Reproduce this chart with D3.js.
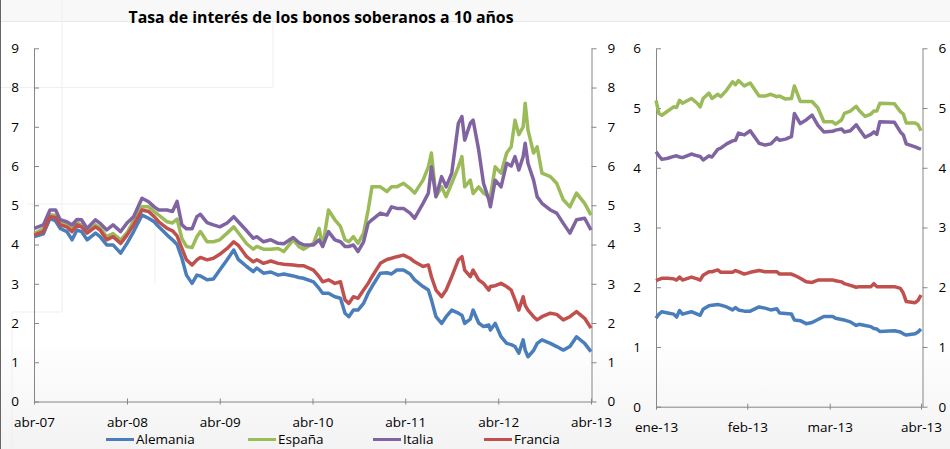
<!DOCTYPE html>
<html>
<head>
<meta charset="utf-8">
<script src="https://cdn.jsdelivr.net/npm/d3@7"></script>
<style>
  body { margin: 0; background: #fff; }
  svg { display: block; }
  text { font-family: "Open Sans", sans-serif; fill: #000; }
</style>
</head>
<body>
<div id="chart"></div>
<script>
// ---- data ----
var series = ["Alemania", "España", "Italia", "Francia"];
var colors = ["#4a7ebb", "#9bbb59", "#8064a2", "#c0504d"];
var meses = ["ene","feb","mar","abr","may","jun","jul","ago","sep","oct","nov","dic"];

// long panel, abr-07 .. abr-13
var fechas = ["2007-04-02","2007-05-08","2007-06-03","2007-06-25","2007-07-13","2007-08-08","2007-08-29",
  "2007-09-17","2007-10-05","2007-10-27","2007-11-29","2007-12-17","2008-01-12","2008-02-06","2008-03-07",
  "2008-04-01","2008-04-27","2008-05-30","2008-06-25","2008-07-17","2008-08-04","2008-09-06","2008-09-27",
  "2008-10-15","2008-11-03","2008-11-21","2008-12-13","2009-01-01","2009-01-15","2009-02-10","2009-03-07",
  "2009-04-01","2009-04-30","2009-05-26","2009-06-13","2009-07-16","2009-08-11","2009-08-25","2009-09-20",
  "2009-10-19","2009-11-17","2009-12-09","2010-01-15","2010-02-06","2010-02-24","2010-04-05","2010-04-27",
  "2010-05-11","2010-06-03","2010-06-28","2010-07-20","2010-08-07","2010-08-22","2010-09-09","2010-09-27",
  "2010-10-19","2010-11-06","2010-11-21","2010-12-24","2011-01-19","2011-02-06","2011-02-27","2011-03-25",
  "2011-04-20","2011-05-08","2011-06-10","2011-07-01","2011-07-13","2011-07-31","2011-08-22","2011-09-09",
  "2011-10-01","2011-10-27","2011-11-10","2011-11-21","2011-12-13","2011-12-24","2012-01-15","2012-02-03",
  "2012-02-24","2012-03-01","2012-03-20","2012-04-12","2012-05-04","2012-05-22","2012-06-06","2012-06-21",
  "2012-07-08","2012-07-16","2012-07-27","2012-08-18","2012-09-01","2012-09-20","2012-10-23","2012-11-17",
  "2012-12-13","2013-01-08","2013-02-03","2013-03-07","2013-04-01"];

var alemania = [4.20,4.27,4.67,4.60,4.41,4.33,4.12,4.37,4.33,4.12,4.29,4.20,3.99,3.99,3.78,
  4.03,4.33,4.75,4.67,4.58,4.45,4.24,4.12,4.00,3.65,3.22,3.01,3.22,3.20,3.10,3.12,
  3.35,3.61,3.86,3.62,3.44,3.31,3.40,3.27,3.30,3.22,3.25,3.20,3.16,3.14,3.05,2.88,
  2.76,2.76,2.67,2.63,2.25,2.16,2.33,2.33,2.50,2.76,2.93,3.27,3.28,3.25,3.35,3.35,
  3.25,3.10,2.93,2.84,2.59,2.16,1.99,2.16,2.33,2.25,2.20,1.99,2.10,2.33,2.00,1.91,
  1.95,1.82,1.99,1.65,1.48,1.45,1.40,1.23,1.57,1.31,1.14,1.30,1.48,1.57,1.48,1.40,
  1.31,1.40,1.65,1.48,1.27];
var espana = [4.28,4.40,4.76,4.74,4.55,4.50,4.40,4.55,4.50,4.33,4.50,4.42,4.20,4.28,4.12,
  4.30,4.60,4.96,4.96,4.84,4.75,4.58,4.55,4.65,4.15,3.95,3.92,4.20,4.33,4.07,4.07,
  4.12,4.29,4.45,4.30,4.02,3.88,3.95,3.88,3.88,3.90,3.82,4.12,3.95,3.88,4.03,4.41,
  3.95,4.88,4.63,4.46,4.12,4.07,4.20,4.03,4.29,4.88,5.47,5.47,5.35,5.47,5.47,5.56,
  5.43,5.31,5.64,5.98,6.33,5.22,5.47,5.22,5.56,5.98,6.24,5.47,5.64,5.30,5.47,5.31,
  5.22,5.22,5.98,5.82,6.33,6.49,7.17,6.80,7.00,7.60,6.92,6.33,6.49,5.82,5.73,5.56,
  5.14,4.96,5.31,5.05,4.75];
var italia = [4.41,4.50,4.88,4.88,4.63,4.58,4.50,4.64,4.63,4.41,4.63,4.54,4.37,4.50,4.33,
  4.55,4.71,5.18,5.09,4.96,4.88,4.88,4.84,5.10,4.50,4.40,4.40,4.71,4.77,4.56,4.50,
  4.45,4.55,4.71,4.58,4.35,4.16,4.20,4.07,4.12,4.03,4.02,4.18,4.05,3.99,3.99,4.12,
  3.95,4.33,4.12,4.07,3.95,3.95,3.99,3.82,4.07,4.54,4.63,4.80,4.75,4.96,4.92,4.92,
  4.80,4.67,5.05,5.31,5.98,5.22,5.73,5.47,5.82,7.09,7.26,6.66,7.09,7.17,6.41,5.56,
  5.14,4.96,5.64,5.47,6.07,6.00,6.24,5.90,6.24,6.58,6.07,5.64,5.22,5.05,4.88,4.80,
  4.54,4.29,4.63,4.67,4.37];
var francia = [4.24,4.33,4.71,4.69,4.50,4.45,4.33,4.50,4.45,4.29,4.45,4.37,4.12,4.20,4.03,
  4.24,4.50,4.88,4.84,4.71,4.58,4.41,4.35,4.22,3.90,3.61,3.48,3.61,3.67,3.61,3.65,
  3.75,3.90,4.07,3.98,3.69,3.56,3.61,3.52,3.58,3.52,3.50,3.48,3.46,3.46,3.35,3.18,
  3.05,3.10,3.01,3.05,2.59,2.50,2.67,2.63,2.84,3.01,3.18,3.52,3.62,3.65,3.69,3.73,
  3.65,3.56,3.44,3.48,3.18,2.84,2.67,2.84,3.18,3.61,3.69,3.35,3.18,3.35,3.10,3.01,
  2.84,2.93,2.95,3.01,2.93,2.84,2.59,2.33,2.67,2.45,2.33,2.16,2.08,2.16,2.25,2.22,
  2.08,2.16,2.29,2.12,1.87];

// short panel, ene-13 .. abr-13 (days since 1 Jan 2013)
var dias13 = [0,1,2,4,6,7,8,9,12,14,15,16,18,19,21,22,24,26,27,28,30,32,35,37,39,41,42,44,46,47,
  49,51,53,55,57,60,61,63,64,66,68,69,71,73,74,75,76,81,83,84,85,88,89,90];
var alemania13 = [1.48,1.55,1.59,1.57,1.55,1.50,1.61,1.55,1.59,1.55,1.53,1.63,1.69,1.70,1.71,1.70,
  1.67,1.62,1.66,1.62,1.60,1.60,1.67,1.65,1.62,1.64,1.57,1.56,1.55,1.45,1.44,1.39,1.41,1.46,1.51,
  1.51,1.48,1.46,1.45,1.42,1.36,1.38,1.36,1.34,1.31,1.30,1.26,1.27,1.25,1.22,1.20,1.22,1.25,1.30];
var espana13 = [5.13,4.91,4.88,4.95,5.02,5.01,5.13,5.08,5.16,5.08,5.02,5.16,5.25,5.16,5.23,5.19,
  5.30,5.44,5.39,5.46,5.37,5.42,5.20,5.20,5.23,5.19,5.20,5.15,5.16,5.37,5.11,5.11,5.11,5.00,4.77,
  4.77,4.73,4.80,4.91,4.95,5.03,4.96,4.86,4.90,4.95,4.95,5.08,5.07,4.94,4.90,4.75,4.75,4.72,4.62];
var italia13 = [4.27,4.20,4.14,4.16,4.19,4.20,4.18,4.17,4.23,4.20,4.19,4.13,4.20,4.18,4.31,4.33,
  4.40,4.45,4.46,4.58,4.55,4.62,4.41,4.38,4.40,4.50,4.46,4.48,4.52,4.91,4.74,4.80,4.88,4.71,4.60,
  4.61,4.63,4.65,4.60,4.62,4.72,4.65,4.51,4.56,4.60,4.56,4.77,4.76,4.60,4.55,4.40,4.35,4.33,4.31];
var francia13 = [2.11,2.13,2.15,2.15,2.14,2.12,2.17,2.12,2.17,2.14,2.12,2.20,2.26,2.26,2.29,2.25,
  2.25,2.25,2.28,2.26,2.22,2.25,2.28,2.26,2.26,2.26,2.22,2.22,2.22,2.20,2.15,2.09,2.08,2.12,2.12,
  2.12,2.11,2.09,2.06,2.03,2.00,2.01,2.01,2.01,2.06,2.01,2.01,2.01,1.98,1.90,1.76,1.74,1.78,1.87];

var yTicksLong = d3.range(0, 10);
var yTicksShort = d3.range(0, 7);

// ---- layout ----
var width = 950, height = 449;
var parse = d3.timeParse("%Y-%m-%d");
var fmt = function(d) { return meses[d.getMonth()] + "-" + d3.timeFormat("%y")(d); };
var axisGrey = "#868686";
var fontSize = "13.5px";

var svg = d3.select("#chart").append("svg")
  .attr("width", width)
  .attr("height", height);

// faint screenshot background
var grad = svg.append("defs").append("linearGradient")
  .attr("id", "bg").attr("x1", 0).attr("x2", 0).attr("y1", 0).attr("y2", 1);
grad.append("stop").attr("offset", "0%").attr("stop-color", "#fefefe");
grad.append("stop").attr("offset", "100%").attr("stop-color", "#f3f3f3");
svg.append("rect").attr("x", 0).attr("y", 345).attr("width", width).attr("height", height - 345)
  .attr("fill", "url(#bg)");
svg.append("rect").attr("x", 0).attr("y", 0).attr("width", width).attr("height", 21)
  .attr("fill", "#f8f8f8");
svg.append("line").attr("x1", 0).attr("x2", width).attr("y1", 21.5).attr("y2", 21.5)
  .attr("stroke", "#e9e9e9");
var ghost = [[62, 0, 62, 312], [0, 87.5, 273, 87.5], [273, 22, 273, 87.5], [12, 312, 62, 312],
  [12, 312, 12, 449], [27, 204, 155, 204], [155, 204, 155, 283]];
svg.selectAll(".ghost").data(ghost).enter().append("line")
  .attr("class", "ghost")
  .attr("x1", function(d) { return d[0]; }).attr("y1", function(d) { return d[1]; })
  .attr("x2", function(d) { return d[2]; }).attr("y2", function(d) { return d[3]; })
  .attr("stroke", "#efefef");
svg.append("line").attr("x1", 0.5).attr("x2", 0.5).attr("y1", 0).attr("y2", height)
  .attr("stroke", "#666");

// title
svg.append("text")
  .attr("x", 321).attr("y", 23)
  .attr("text-anchor", "middle")
  .attr("font-weight", "bold")
  .attr("font-size", "16px")
  .attr("textLength", 385)
  .attr("lengthAdjust", "spacingAndGlyphs")
  .text("Tasa de interés de los bonos soberanos a 10 años");

function drawAxes(g, x, y, xTicks, yTicks, xl, xr) {
  var yl = g.append("g").attr("transform", "translate(" + xl + ",0)")
    .call(d3.axisLeft(y).tickValues(yTicks).tickFormat(d3.format("d"))
      .tickSizeInner(-5).tickSizeOuter(0).tickPadding(15));
  var yr = g.append("g").attr("transform", "translate(" + xr + ",0)")
    .call(d3.axisRight(y).tickValues(yTicks).tickFormat(d3.format("d"))
      .tickSizeInner(5).tickSizeOuter(0).tickPadding(11));
  var xa = g.append("g").attr("transform", "translate(0," + y(0) + ")")
    .call(d3.axisBottom(x).tickValues(xTicks).tickFormat(fmt).tickSizeInner(3).tickSizeOuter(0).tickPadding(13));
  xa.selectAll(".tick line").attr("y1", -3);
  xa.select(".domain").attr("d", "M" + xl + ",0.5H" + xr);
  [yl, yr, xa].forEach(function(a) {
    a.selectAll("path, line").attr("stroke", axisGrey);
    a.selectAll("text").attr("font-size", fontSize).attr("fill", "#000")
      .style("font-family", "'Open Sans', sans-serif");
  });
}

function drawLines(g, x, y, dates, cols) {
  var line = d3.line()
    .x(function(d) { return x(d[0]); })
    .y(function(d) { return y(d[1]); });
  cols.forEach(function(vals, i) {
    g.append("path")
      .datum(dates.map(function(dt, k) { return [dt, vals[k]]; }))
      .attr("fill", "none")
      .attr("stroke", colors[i])
      .attr("stroke-width", 3.5)
      .attr("stroke-linejoin", "round")
      .attr("d", line);
  });
}

// ---- left panel ----
var xLong = d3.scaleTime()
  .domain([new Date(2007, 3, 1), new Date(2013, 3, 1)])
  .range([34, 591]);
var yLong = d3.scaleLinear().domain([0, 9]).range([401.5, 48.3]);
var left = svg.append("g");
drawAxes(left, xLong, yLong, d3.range(2007, 2014).map(function(a) { return new Date(a, 3, 1); }),
  yTicksLong, 34, 591.5);
drawLines(left, xLong, yLong, fechas.map(parse), [alemania, espana, italia, francia]);

// ---- right panel ----
var base13 = new Date(2013, 0, 1);
var xShort = d3.scaleTime()
  .domain([base13, new Date(2013, 3, 1)])
  .range([656, 921]);
var yShort = d3.scaleLinear().domain([0, 6]).range([406.7, 48.3]);
var right = svg.append("g");
drawAxes(right, xShort, yShort, [0, 1, 2, 3].map(function(m) { return new Date(2013, m, 1); }),
  yTicksShort, 656, 922.5);
drawLines(right, xShort, yShort, dias13.map(function(n) { return d3.timeDay.offset(base13, n); }),
  [alemania13, espana13, italia13, francia13]);

// ---- legend ----
var legX = [106, 248, 373, 484];
var leg = svg.append("g").selectAll("g").data(series).enter().append("g")
  .attr("transform", function(d, i) { return "translate(" + legX[i] + ",439.5)"; });
leg.append("line").attr("x1", 0).attr("x2", 28).attr("y1", 0).attr("y2", 0)
  .attr("stroke", function(d, i) { return colors[i]; }).attr("stroke-width", 3);
leg.append("text").attr("x", 30).attr("y", 4.8).attr("font-size", fontSize).text(function(d) { return d; });
</script>
</body>
</html>
